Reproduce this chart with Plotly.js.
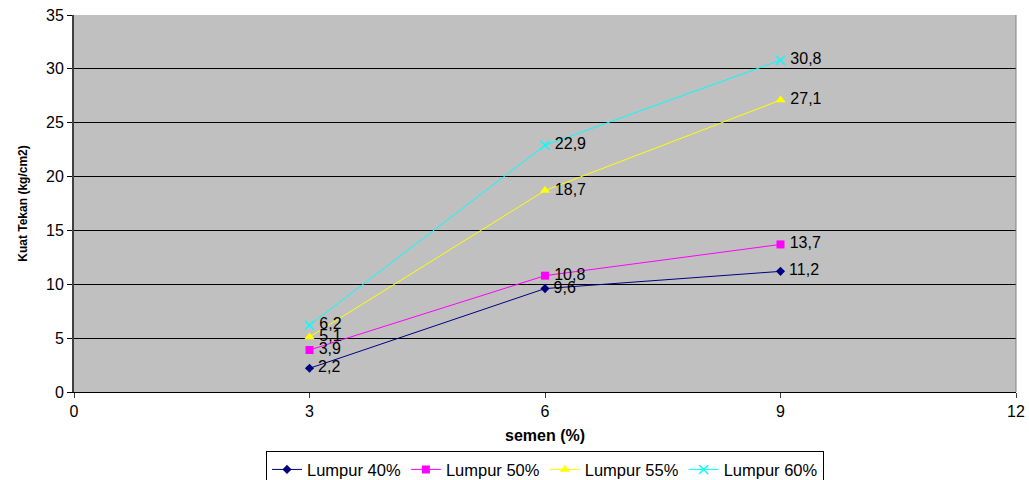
<!DOCTYPE html>
<html>
<head>
<meta charset="utf-8">
<script src="https://cdn.plot.ly/plotly-3.0.1.min.js"></script>
<style>
  html, body { margin: 0; padding: 0; background: #ffffff; }
  #chart { width: 1029px; height: 480px; }
</style>
</head>
<body>
<div id="chart"></div>
<script>
// Cement content (%) on the x axis
const semen = [3, 6, 9];

// Compressive strength (kg/cm2) per mud content
const lumpur40 = [2.2, 9.6, 11.2];
const lumpur50 = [3.9, 10.8, 13.7];
const lumpur55 = [5.1, 18.7, 27.1];
const lumpur60 = [6.2, 22.9, 30.8];

const seriesNames = ['Lumpur 40%', 'Lumpur 50%', 'Lumpur 55%', 'Lumpur 60%'];
const xTicks = [0, 3, 6, 9, 12];
const yTicks = [0, 5, 10, 15, 20, 25, 30, 35];

const colors = ['#000080', '#FF00FF', '#FFFF00', '#00FFFF'];
const symbols = ['diamond', 'square', 'triangle-up', 'x-thin'];
const markerSizes = [7, 8, 9, 9];

// value labels use a decimal comma, with a small gap from the marker
const fmt = v => '\u2009' + String(v).replace('.', ',');

const allSeries = [lumpur40, lumpur50, lumpur55, lumpur60];
const traces = allSeries.map((vals, i) => ({
  x: semen,
  y: vals,
  name: seriesNames[i],
  type: 'scatter',
  mode: 'lines+markers+text',
  text: vals.map(fmt),
  textposition: 'middle right',
  textfont: { family: 'Liberation Sans, Arial, sans-serif', size: 16, color: '#000000' },
  line: { color: colors[i], width: 1 },
  marker: {
    color: colors[i],
    symbol: symbols[i],
    size: markerSizes[i],
    line: { color: colors[i], width: symbols[i] === 'x-thin' ? 1.5 : 0 }
  },
  cliponaxis: false,
  hoverinfo: 'skip'
}));

const layout = {
  width: 1029,
  height: 480,
  margin: { l: 74, r: 13, t: 15, b: 88, autoexpand: false },
  paper_bgcolor: '#ffffff',
  plot_bgcolor: '#C0C0C0',
  separators: ',.',
  font: { family: 'Liberation Sans, Arial, sans-serif', size: 16, color: '#000000' },
  showlegend: true,
  legend: {
    orientation: 'h',
    x: 0.5,
    xanchor: 'center',
    y: -0.157,
    yanchor: 'top',
    bgcolor: '#ffffff',
    bordercolor: '#000000',
    borderwidth: 1,
    font: { size: 16.5 },
    itemwidth: 30,
    tracegroupgap: 0
  },
  xaxis: {
    range: [0, 12],
    tickvals: xTicks,
    ticktext: xTicks.map(String),
    ticks: 'outside',
    ticklen: 5,
    tickcolor: '#404040',
    showgrid: false,
    zeroline: false,
    showline: true,
    linecolor: '#000000',
    linewidth: 1,
    mirror: false,
    tickfont: { size: 16 },
    title: {
      text: '<b>semen (%)</b>',
      font: { size: 16 },
      standoff: 10
    }
  },
  yaxis: {
    range: [0, 35],
    tickvals: yTicks,
    ticktext: yTicks.map(String),
    ticks: 'outside',
    ticklen: 5,
    tickcolor: '#000000',
    showgrid: true,
    gridcolor: '#000000',
    gridwidth: 1,
    zeroline: false,
    showline: true,
    linecolor: '#404040',
    linewidth: 2,
    tickfont: { size: 16 },
    title: {
      text: '<b>Kuat Tekan (kg/cm2)</b>',
      font: { size: 12 },
      standoff: 16
    }
  },
  shapes: [{
    type: 'line', xref: 'paper', yref: 'paper',
    x0: 1, x1: 1, y0: 0, y1: 1,
    line: { color: '#808080', width: 1 }
  }]
};

Plotly.newPlot('chart', traces, layout, { displayModeBar: false, staticPlot: true });
</script>
</body>
</html>
